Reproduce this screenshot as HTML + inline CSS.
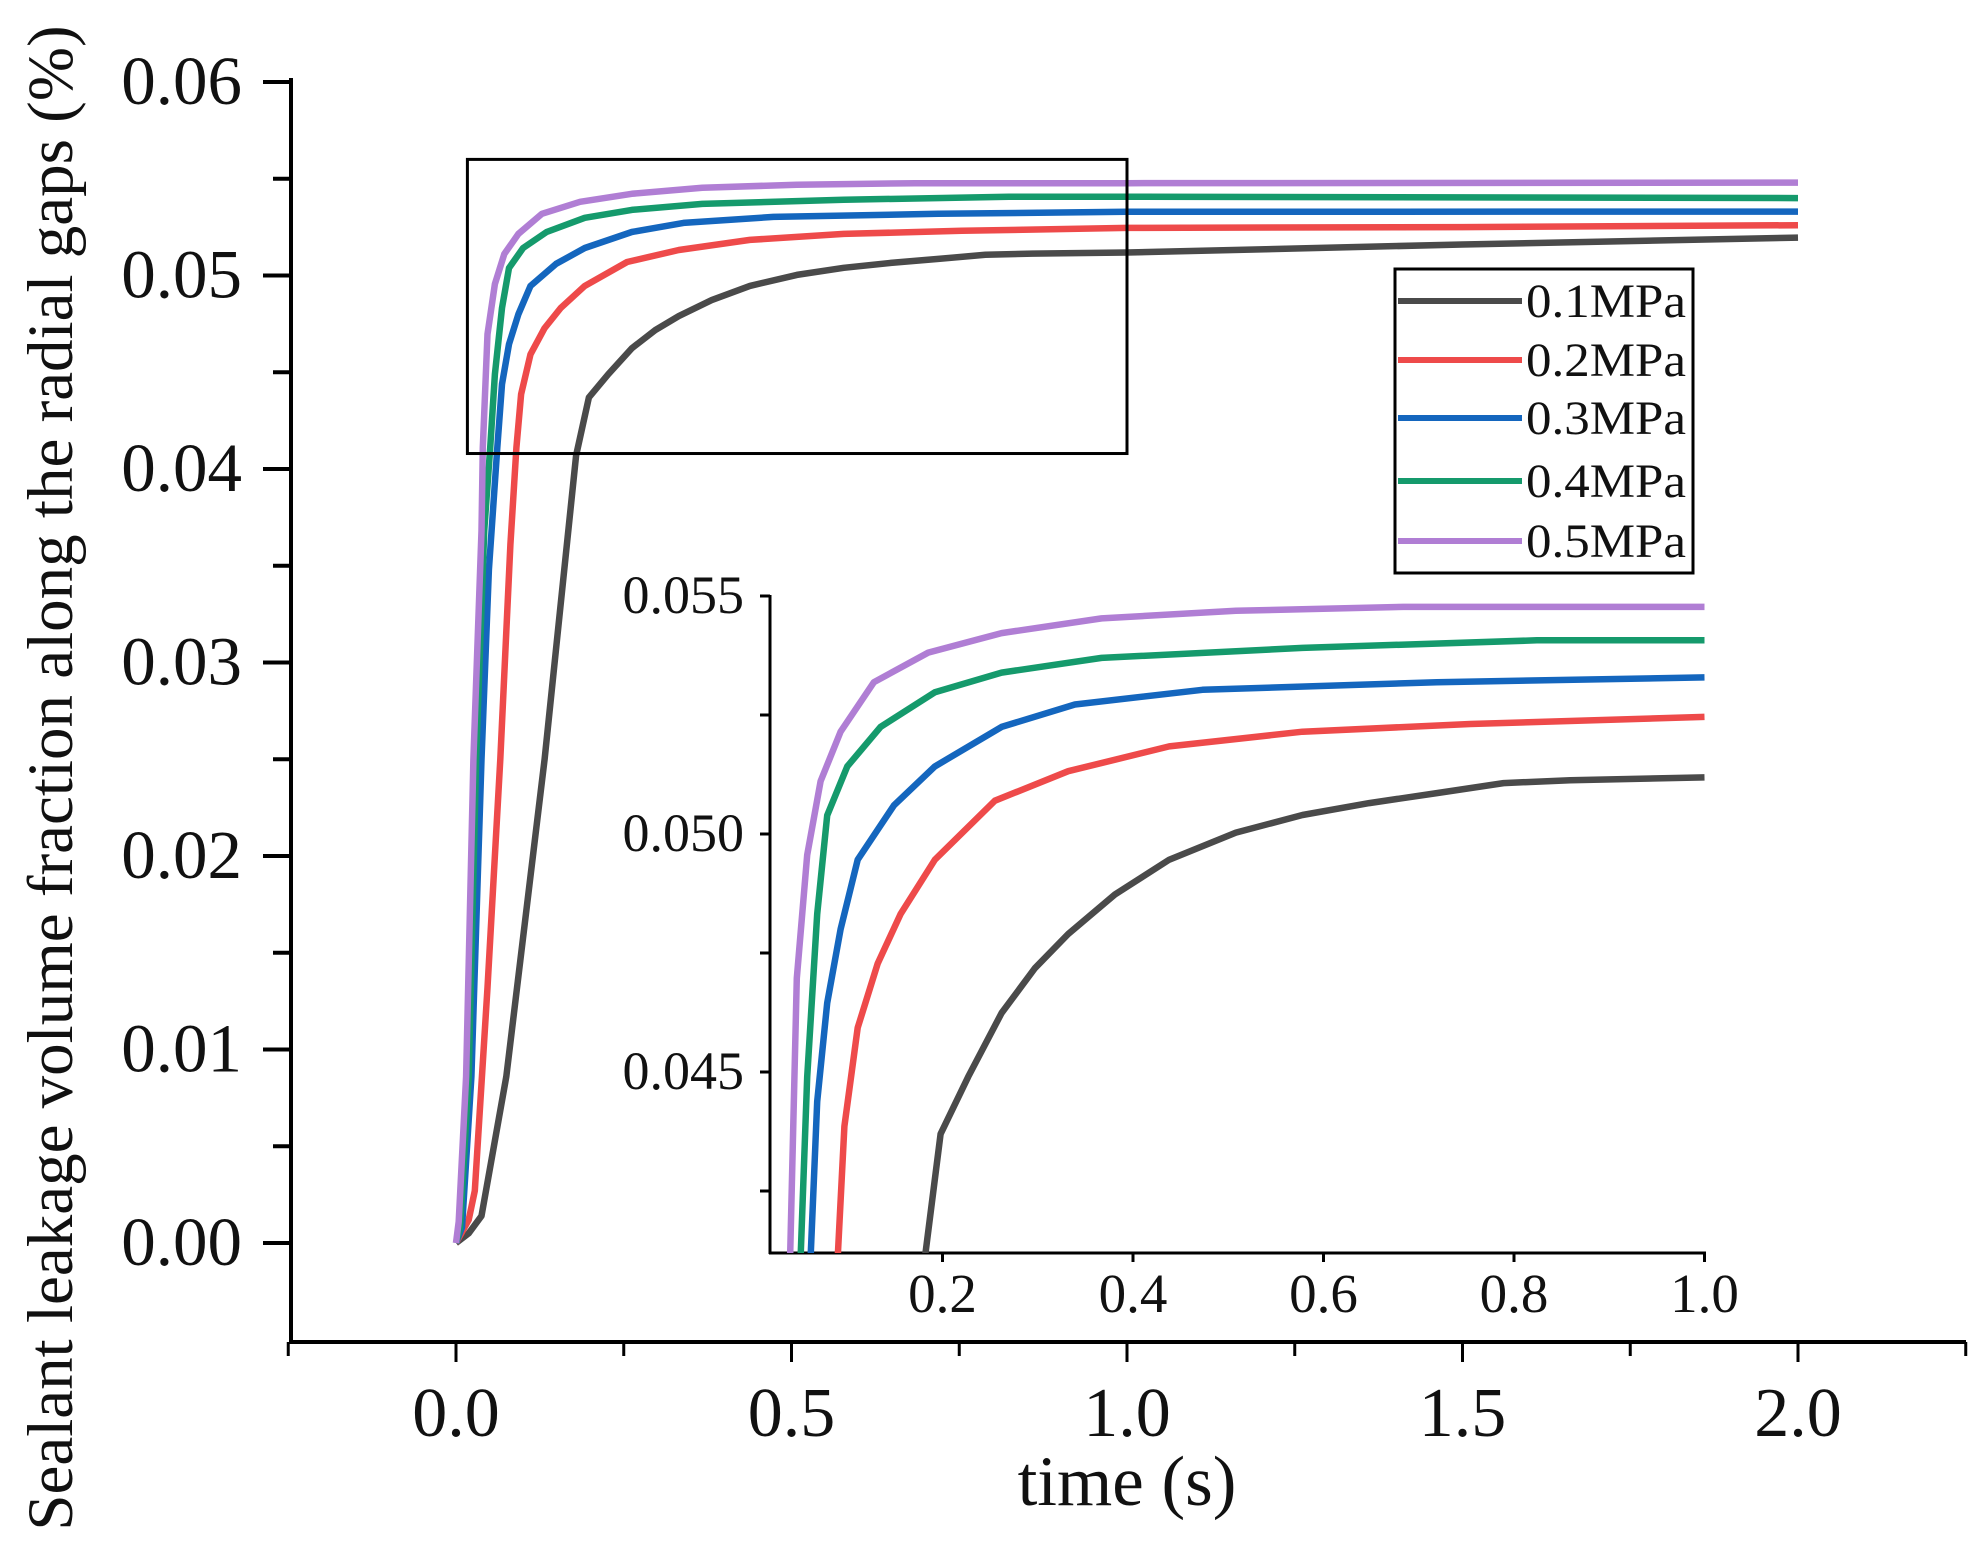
<!DOCTYPE html>
<html><head><meta charset="utf-8">
<style>
html,body{margin:0;padding:0;background:#fff;overflow:hidden;width:1985px;height:1561px;}
svg{display:block;}
text{font-family:"Liberation Serif",serif;fill:#111;}
</style></head>
<body>
<svg id="chart" width="1985" height="1561" viewBox="0 0 1985 1561" xmlns="http://www.w3.org/2000/svg">
<g id="main"></g>
<g id="inset"></g>
<g id="legend"></g>
</svg>
<script>
const seriesNames = ["0.1MPa","0.2MPa","0.3MPa","0.4MPa","0.5MPa"];
const seriesColors = ["#4a4a4a","#ee4a4a","#1466be","#159a6c","#b07ed4"];
const t01 = [0,0.019,0.038,0.075,0.132,0.179,0.198,0.227,0.262,0.297,0.332,0.381,0.438,0.508,0.578,0.648,0.719,0.789,0.859,1.0,1.5,2.0];
const v01 = [0,0.0005,0.0014,0.0086,0.025,0.0407,0.0437,0.0449,0.04624,0.04718,0.0479,0.04873,0.04946,0.05003,0.0504,0.05065,0.05086,0.05107,0.05113,0.05119,0.0516,0.05196];
const t02 = [0,0.019,0.028,0.047,0.066,0.081,0.090,0.097,0.111,0.132,0.156,0.192,0.255,0.332,0.438,0.578,0.754,1.0,1.5,2.0];
const v02 = [0,0.0012,0.0027,0.0132,0.025,0.0361,0.0411,0.04386,0.04593,0.04728,0.04832,0.04946,0.0507,0.05132,0.05184,0.05215,0.05231,0.05246,0.0525,0.0526];
const t03 = [0,0.009,0.023,0.038,0.049,0.0615,0.0685,0.079,0.093,0.111,0.149,0.192,0.262,0.339,0.473,0.719,1.0,2.0];
const v03 = [0,0.0008,0.0086,0.025,0.0348,0.0411,0.04438,0.04645,0.048,0.04946,0.0506,0.05142,0.05225,0.05272,0.05303,0.05319,0.05329,0.0533];
const t04 = [0,0.006,0.019,0.030,0.042,0.051,0.058,0.0685,0.079,0.100,0.135,0.192,0.262,0.367,0.578,0.824,1.0,2.0];
const v04 = [0,0.0008,0.0086,0.025,0.0368,0.0411,0.0449,0.04832,0.05039,0.05142,0.05225,0.05298,0.05339,0.0537,0.05391,0.05407,0.05407,0.0540];
const t05 = [0,0.004,0.015,0.026,0.038,0.040,0.047,0.058,0.072,0.093,0.128,0.185,0.262,0.367,0.508,0.684,1.0,2.0];
const v05 = [0,0.0011,0.0086,0.025,0.0368,0.0411,0.04697,0.04956,0.05111,0.05215,0.05319,0.05381,0.05422,0.05453,0.05469,0.05477,0.05477,0.0548];
const allT = [t01,t02,t03,t04,t05];
const allV = [v01,v02,v03,v04,v05];
const xTicksMain = [0,0.5,1.0,1.5,2.0];
const xTickLabelsMain = ["0.0","0.5","1.0","1.5","2.0"];
const yTicksMain = [0,0.01,0.02,0.03,0.04,0.05,0.06];
const yTickLabelsMain = ["0.00","0.01","0.02","0.03","0.04","0.05","0.06"];
const xTicksInset = [0.2,0.4,0.6,0.8,1.0];
const xTickLabelsInset = ["0.2","0.4","0.6","0.8","1.0"];
const yTicksInset = [0.045,0.050,0.055];
const yTickLabelsInset = ["0.045","0.050","0.055"];
const zoomBox = [0.017,1.0,0.0408,0.0560];

const NS="http://www.w3.org/2000/svg";
function mk(tag,parent,attrs){const e=document.createElementNS(NS,tag);for(const k in attrs)e.setAttribute(k,attrs[k]);parent.appendChild(e);return e;}

const mx=t=>456+t*671, my=v=>1243-v*19350;
const ix=t=>942.5+(t-0.2)*952.5, iy=v=>834-(v-0.05)*47600;

const main=document.getElementById('main');
let e;
e=mk('line',main,{x1:291,y1:78,x2:291,y2:1343,stroke:'#000','stroke-width':4});


e=mk('line',main,{x1:289,y1:1342,x2:1966,y2:1342,stroke:'#000','stroke-width':4});


for(let v=0;v<=0.0601;v+=0.005){const maj=Math.abs(v/0.01-Math.round(v/0.01))<1e-6;
 e=mk('line',main,{x1:maj?263:273,y1:my(v),x2:291,y2:my(v),stroke:'#000','stroke-width':4});
 
 }
yTicksMain.forEach((v,i)=>{e=mk('text',main,{x:242,y:my(v)+22,'text-anchor':'end','font-size':69});e.textContent=yTickLabelsMain[i];
 
 });
for(let t=-0.25;t<=2.26;t+=0.25){const maj=Math.abs(t*2-Math.round(t*2))<1e-6;
 e=mk('line',main,{x1:mx(t),y1:1342,x2:mx(t),y2:maj?1362:1356,stroke:'#000','stroke-width':3});
 
 }
xTicksMain.forEach((t,i)=>{e=mk('text',main,{x:mx(t),y:1436,'text-anchor':'middle','font-size':70});e.textContent=xTickLabelsMain[i];
 
 });
e=mk('text',main,{x:1127,y:1505,'text-anchor':'middle','font-size':71});e.textContent='time (s)';


e=mk('text',main,{x:0,y:0,'text-anchor':'middle','font-size':65,transform:'translate(72,778) rotate(-90)'});e.textContent='Sealant leakage volume fraction along the radial gaps (%)';


allT.forEach((ts,s)=>{const pts=ts.map((t,i)=>mx(t).toFixed(1)+','+my(allV[s][i]).toFixed(1)).join(' ');
 e=mk('polyline',main,{points:pts,fill:'none',stroke:seriesColors[s],'stroke-width':6.5,'stroke-linejoin':'round'});
 
 });
e=mk('rect',main,{x:mx(zoomBox[0]),y:my(zoomBox[3]),width:mx(zoomBox[1])-mx(zoomBox[0]),height:my(zoomBox[2])-my(zoomBox[3]),fill:'none',stroke:'#000','stroke-width':3});



const inset=document.getElementById('inset');
e=mk('defs',inset,{});
const cp=mk('clipPath',e,{id:'ic'});mk('rect',cp,{x:770,y:560,width:940,height:693});
e=mk('line',inset,{x1:770,y1:595,x2:770,y2:1254,stroke:'#000','stroke-width':3});


e=mk('line',inset,{x1:769,y1:1253,x2:1706,y2:1253,stroke:'#000','stroke-width':3});


[0.0425,0.045,0.0475,0.05,0.0525,0.055].forEach(v=>{e=mk('line',inset,{x1:760,y1:iy(v),x2:770,y2:iy(v),stroke:'#000','stroke-width':3});
 
 });
yTicksInset.forEach((v,i)=>{e=mk('text',inset,{x:744,y:iy(v)+17,'text-anchor':'end','font-size':54});e.textContent=yTickLabelsInset[i];
 
 });
xTicksInset.forEach((t,i)=>{e=mk('line',inset,{x1:ix(t),y1:1253,x2:ix(t),y2:1262,stroke:'#000','stroke-width':3});
 
 
 e=mk('text',inset,{x:ix(t),y:1312,'text-anchor':'middle','font-size':55});e.textContent=xTickLabelsInset[i];
 
 });
allT.forEach((ts,s)=>{const pts=[];ts.forEach((t,i)=>{if(t<=1.0001)pts.push(ix(t).toFixed(1)+','+iy(allV[s][i]).toFixed(1));});
 e=mk('polyline',inset,{points:pts.join(' '),fill:'none',stroke:seriesColors[s],'stroke-width':6.5,'stroke-linejoin':'round','clip-path':'url(#ic)'});
 
 });

const lg=document.getElementById('legend');
e=mk('rect',lg,{x:1395,y:269,width:298,height:304,fill:'#fff',stroke:'#000','stroke-width':3});


const ly=[301,360,418,481,541];
seriesNames.forEach((n,i)=>{e=mk('line',lg,{x1:1398,y1:ly[i],x2:1522,y2:ly[i],stroke:seriesColors[i],'stroke-width':6});
 
 
 e=mk('text',lg,{x:1526,y:ly[i]+16,'font-size':48,textLength:160,lengthAdjust:'spacingAndGlyphs'});e.textContent=n;
 
 });
</script>
</body></html>
